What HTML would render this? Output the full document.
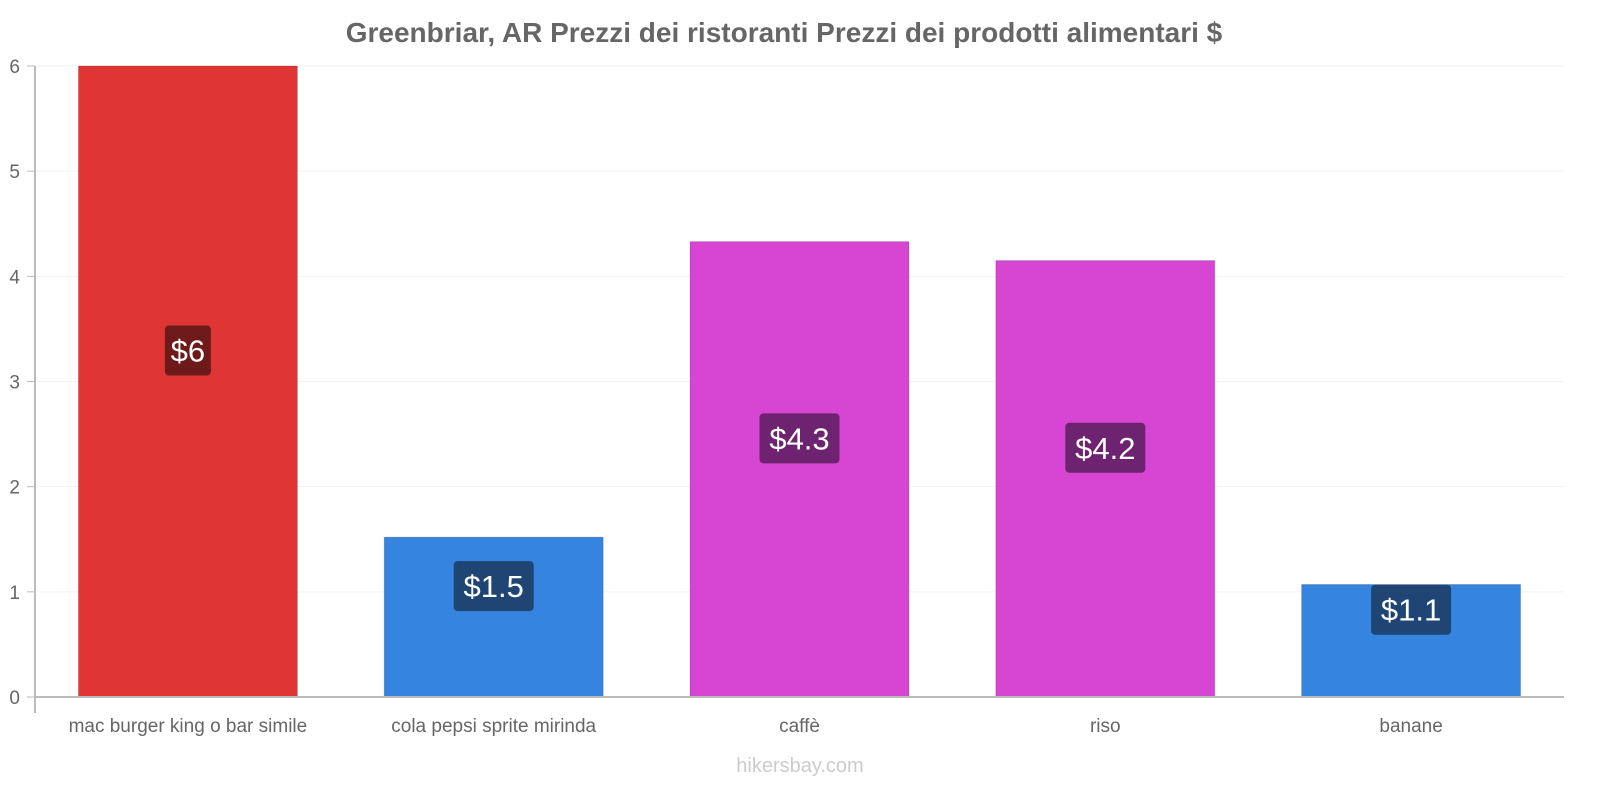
<!DOCTYPE html>
<html><head><meta charset="utf-8"><style>
body{margin:0;background:#fff;}
svg{display:block;font-family:"Liberation Sans",sans-serif;}
</style></head><body>
<svg id="chart" width="1600" height="800">
<text x="784" y="42" text-anchor="middle" font-size="28" font-weight="bold" fill="#666">Greenbriar, AR Prezzi dei ristoranti Prezzi dei prodotti alimentari $</text>
<g id="grid"></g><g id="bars"></g><g id="axes"></g>
<text x="800" y="772" text-anchor="middle" font-size="20" fill="#ccc">hikersbay.com</text>
</svg>
<script>
const categories=["mac burger king o bar simile","cola pepsi sprite mirinda","caffè","riso","banane"];
const values=[6,1.52,4.33,4.15,1.07];
const valueLabels=["$6","$1.5","$4.3","$4.2","$1.1"];
const yTicks=[0,1,2,3,4,5,6];
const colors=["#e03535","#3584e0","#d646d3","#d646d3","#3584e0"];
const labelColors=["#6e1a1a","#1e4573","#6e2370","#6e2370","#1e4573"];
const NS="http://www.w3.org/2000/svg";
const x0=35,x1=1564,y0=697,yTop=66,ymax=6;
const step=(x1-x0)/categories.length;
const y=v=>y0-(y0-yTop)*v/ymax;
const xc=i=>x0+step*(i+0.5);
function mk(t,a,p){const e=document.createElementNS(NS,t);for(const k in a)e.setAttribute(k,a[k]);p.appendChild(e);return e;}
const grid=document.getElementById('grid'),bars=document.getElementById('bars'),axes=document.getElementById('axes');
yTicks.forEach(t=>{
 const g=mk('line',{x1:x0,x2:x1,y1:y(t),y2:y(t),stroke:'#f2f2f2'},grid);
 
 
 const tx=mk('text',{x:20,y:y(t)+7,'text-anchor':'end','font-size':19,fill:'#666'},axes);
 tx.textContent=t;
 
 
 const tk=mk('line',{x1:x0-8,x2:x0,y1:y(t),y2:y(t),stroke:'#bbb'},axes);
 
 
});
const bw=step*0.716;
categories.forEach((c,i)=>{
 const r=mk('rect',{x:xc(i)-bw/2,y:y(values[i]),width:bw,height:y0-y(values[i]),fill:colors[i],stroke:'rgba(0,0,0,0.15)'},bars);
 
 
 const cy=(y(values[i])+y0)/2-31;
 const w=valueLabels[i].length*17+12;
 const lb=mk('rect',{x:xc(i)-w/2,y:cy-25,width:w,height:50,rx:4,fill:labelColors[i]},bars);
 
 
 const lt=mk('text',{x:xc(i),y:cy+11,'text-anchor':'middle','font-size':31,fill:'#fff'},bars);
 lt.textContent=valueLabels[i];
 
 
 const ct=mk('text',{x:xc(i),y:732,'text-anchor':'middle','font-size':19,fill:'#666'},axes);
 ct.textContent=c;
 
 
});
const ya=mk('line',{x1:x0,x2:x0,y1:yTop,y2:713,stroke:'#bbb','stroke-width':2},axes);


const xa=mk('line',{x1:x0,x2:x1,y1:y0,y2:y0,stroke:'#bbb','stroke-width':2},axes);


</script>
</body></html>
